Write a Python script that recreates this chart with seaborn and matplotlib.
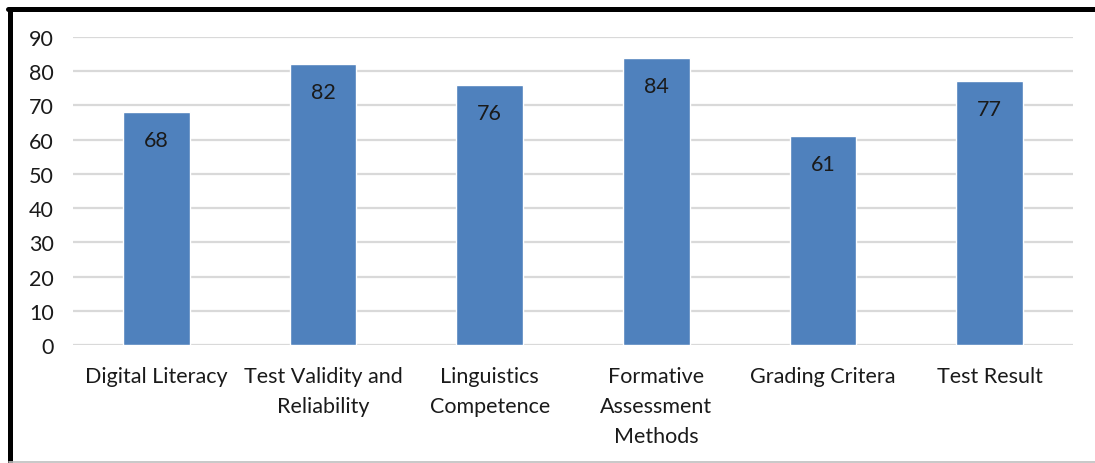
import matplotlib
matplotlib.use("Agg")
import matplotlib.pyplot as plt
import seaborn as sns
import pandas as pd

categories = ["Digital Literacy", "Test Validity and\nReliability", "Linguistics\nCompetence",
              "Formative\nAssessment\nMethods", "Grading Critera", "Test Result"]
values = [68, 82, 76, 84, 61, 77]
yticks = [0, 10, 20, 30, 40, 50, 60, 70, 80, 90]

sns.set_theme(style="white")
plt.rcParams['font.family'] = ['Lato', 'DejaVu Sans']

df = pd.DataFrame({"cat": categories, "val": values})

fig = plt.figure(figsize=(10.95, 4.64), dpi=100)
ax = fig.add_axes([73/1095, 1 - 346/464, 1000/1095, (346-38)/464])

sns.barplot(data=df, x="cat", y="val", color="#4F81BD", width=0.4, saturation=1, ax=ax)
ax.set_ylim(0, 90)
ax.set_xlim(-0.5, 5.5)
ax.set_yticks(yticks)
ax.yaxis.grid(True, color="#D9D9D9", linewidth=1.6)
ax.set_axisbelow(True)
for s in ax.spines.values():
    s.set_visible(False)
ax.set_xlabel("")
ax.set_ylabel("")
ax.tick_params(axis="both", length=0, labelsize=15.5, colors="#1a1a1a")
ax.tick_params(axis="y", pad=14)
ax.tick_params(axis="x", pad=15)
for lab in ax.get_xticklabels():
    lab.set_linespacing(1.62)
    lab.set_verticalalignment("top")

for i, v in enumerate(values):
    ax.annotate(str(v), (i, v), xytext=(0, -28), textcoords="offset pixels",
                ha="center", va="center", fontsize=15.5, color="#1a1a1a")

# frame
fig.add_artist(plt.Line2D([9.5/1095, 9.5/1095], [0, 1 - 9.5/464], color="black", linewidth=3.6, transform=fig.transFigure))
fig.add_artist(plt.Line2D([8/1095, 1], [1 - 9.5/464, 1 - 9.5/464], color="black", linewidth=3.6, transform=fig.transFigure))
fig.add_artist(plt.Line2D([9/1095, 1], [1/464, 1/464], color="#BFBFBF", linewidth=1.2, transform=fig.transFigure))

fig.savefig("out.png", dpi=100)
